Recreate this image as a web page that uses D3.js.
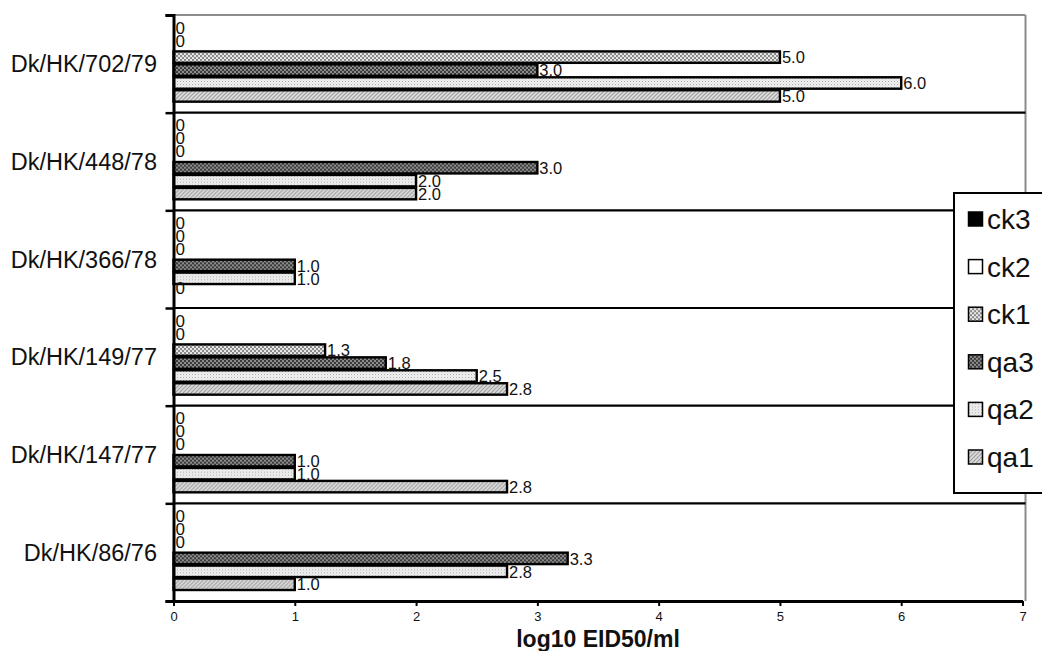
<!DOCTYPE html>
<html>
<head>
<meta charset="utf-8">
<script src="https://cdn.jsdelivr.net/npm/d3@7"></script>
<style>
body { margin: 0; background: #ffffff; }
text { font-family: "Liberation Sans", Arial, sans-serif; }
</style>
</head>
<body>
<div id="chart"></div>
<script>
// strains, top to bottom
var strains = ["Dk/HK/702/79", "Dk/HK/448/78", "Dk/HK/366/78", "Dk/HK/149/77", "Dk/HK/147/77", "Dk/HK/86/76"];
// series, top to bottom inside each group (same order as legend)
var series = ["ck3", "ck2", "ck1", "qa3", "qa2", "qa1"];
var ck3 = [0, 0, 0, 0, 0, 0];
var ck2 = [0, 0, 0, 0, 0, 0];
var ck1 = [5.0, 0, 0, 1.25, 0, 0];
var qa3 = [3.0, 3.0, 1.0, 1.75, 1.0, 3.25];
var qa2 = [6.0, 2.0, 1.0, 2.5, 1.0, 2.75];
var qa1 = [5.0, 2.0, 0, 2.75, 2.75, 1.0];
var xTicks = [0, 1, 2, 3, 4, 5, 6, 7];
var xTitle = "log10 EID50/ml";

var values = {ck3: ck3, ck2: ck2, ck1: ck1, qa3: qa3, qa2: qa2, qa1: qa1};

var W = 1042, H = 651;
var pLeft = 173.5, pRight = 1022.5, pTop = 15, pBottom = 601;

var svg = d3.select("#chart")
	.append("svg")
	.attr("width", W)
	.attr("height", H);

// fill patterns
var defs = svg.append("defs");
function checker(id, bg, fg, size){
	var p = defs.append("pattern")
		.attr("id", id)
		.attr("patternUnits", "userSpaceOnUse")
		.attr("width", size*2).attr("height", size*2);
	p.append("rect").attr("width", size*2).attr("height", size*2).attr("fill", bg);
	p.append("rect").attr("width", size).attr("height", size).attr("fill", fg);
	p.append("rect").attr("x", size).attr("y", size).attr("width", size).attr("height", size).attr("fill", fg);
}
checker("p_ck1", "#e6e6e6", "#8a8a8a", 2);
checker("p_qa3", "#8c8c8c", "#3a3a3a", 2);

var dots = defs.append("pattern")
	.attr("id", "p_qa2")
	.attr("patternUnits", "userSpaceOnUse")
	.attr("width", 3).attr("height", 3);
dots.append("rect").attr("width", 3).attr("height", 3).attr("fill", "#f2f2f2");
dots.append("rect").attr("width", 1).attr("height", 1).attr("fill", "#a6a6a6");
dots.append("rect").attr("x", 1.5).attr("y", 1.5).attr("width", 1).attr("height", 1).attr("fill", "#c4c4c4");

var hatch = defs.append("pattern")
	.attr("id", "p_qa1")
	.attr("patternUnits", "userSpaceOnUse")
	.attr("width", 4).attr("height", 4);
hatch.append("rect").attr("width", 4).attr("height", 4).attr("fill", "#dcdcdc");
hatch.append("path")
	.attr("d", "M-1,1 L1,-1 M0,4 L4,0 M3,5 L5,3")
	.attr("stroke", "#a0a0a0")
	.attr("stroke-width", 1.2);

var fills = {ck3: "#000000", ck2: "#ffffff", ck1: "url(#p_ck1)", qa3: "url(#p_qa3)", qa2: "url(#p_qa2)", qa1: "url(#p_qa1)"};

// scales
var x = d3.scaleLinear().domain([0, 7]).range([pLeft, pRight]);
var y = d3.scaleBand().domain(strains).range([pTop, pBottom]).padding(0);
var sub = d3.scaleBand().domain(series).range([10, y.bandwidth() - 10]).padding(0);
var yb = d3.scaleLinear().domain([0, strains.length]).range([pTop, pBottom]);

// frame: gray top and right
svg.append("line")
	.attr("x1", pLeft).attr("x2", pRight + 3)
	.attr("y1", pTop).attr("y2", pTop)
	.attr("stroke", "#8c8c8c").attr("stroke-width", 2);
svg.append("line")
	.attr("x1", pRight + 3).attr("x2", pRight + 3)
	.attr("y1", pTop).attr("y2", pBottom)
	.attr("stroke", "#8c8c8c").attr("stroke-width", 2);

// group separators
svg.selectAll(".sep")
	.data(d3.range(1, strains.length))
	.enter().append("line")
	.attr("class", "sep")
	.attr("x1", pLeft).attr("x2", pRight + 3)
	.attr("y1", function(d){ return yb(d); })
	.attr("y2", function(d){ return yb(d); })
	.attr("stroke", "#000").attr("stroke-width", 2.2);

// bars
var groups = svg.selectAll(".grp")
	.data(strains)
	.enter().append("g")
	.attr("class", "grp")
	.attr("transform", function(d){ return "translate(0," + y(d) + ")"; });

groups.each(function(s, i){
	var g = d3.select(this);
	series.forEach(function(k){
		var v = values[k][i];
		var yy = sub(k);
		if (v > 0){
			g.append("rect")
				.attr("x", x(0))
				.attr("y", yy + 0.5)
				.attr("width", x(v) - x(0))
				.attr("height", sub.bandwidth() - 1.5)
				.attr("fill", fills[k])
				.attr("stroke", "#000")
				.attr("stroke-width", 2.4);
		}
		g.append("text")
			.attr("x", v > 0 ? x(v) + 2 : x(0) + 2)
			.attr("y", yy + sub.bandwidth() / 2 + (v > 0 ? 0 : -4))
			.attr("dy", "0.36em")
			.attr("font-size", v > 0 ? 16.5 : 17)
			.attr("fill", "#111")
			.text(v > 0 ? v.toFixed(1) : "0");
	});
});

// category labels
svg.selectAll(".cat")
	.data(strains)
	.enter().append("text")
	.attr("class", "cat")
	.attr("x", 157)
	.attr("y", function(d){ return y(d) + y.bandwidth() / 2; })
	.attr("dy", "0.36em")
	.attr("text-anchor", "end")
	.attr("font-size", 23.5)
	.attr("fill", "#111")
	.text(function(d){ return d; });

// left axis with ticks at group boundaries
var yAxis = svg.append("g")
	.attr("transform", "translate(" + pLeft + ",0)")
	.call(d3.axisLeft(yb).tickValues(d3.range(0, strains.length + 1)).tickSize(8).tickFormat(""));
yAxis.select(".domain").attr("stroke-width", 3);
yAxis.selectAll(".tick line").attr("stroke-width", 2.5);

// bottom axis
var xAxis = svg.append("g")
	.attr("transform", "translate(0," + pBottom + ")")
	.call(d3.axisBottom(x).tickValues(xTicks).tickSize(5).tickSizeOuter(0).tickFormat(d3.format("d")));
xAxis.select(".domain").attr("stroke-width", 3);
xAxis.selectAll(".tick line").attr("stroke-width", 2);
xAxis.selectAll(".tick text")
	.attr("font-family", "Liberation Sans, Arial, sans-serif")
	.attr("font-size", 13)
	.attr("dy", "0.9em")
	.attr("fill", "#111");

svg.append("text")
	.attr("x", 598)
	.attr("y", 647)
	.attr("text-anchor", "middle")
	.attr("font-size", 23)
	.attr("font-weight", "bold")
	.attr("fill", "#111")
	.text(xTitle);

// legend
var lg = svg.append("g").attr("transform", "translate(954,193)");
lg.append("rect")
	.attr("width", 120).attr("height", 300)
	.attr("fill", "#fff")
	.attr("stroke", "#000").attr("stroke-width", 2);
var items = lg.selectAll(".item")
	.data(series)
	.enter().append("g")
	.attr("class", "item")
	.attr("transform", function(d, i){ return "translate(0," + (26 + i * 47.6) + ")"; });
items.append("rect")
	.attr("x", 14.5).attr("y", -7)
	.attr("width", 14).attr("height", 14)
	.attr("fill", function(d){ return fills[d]; })
	.attr("stroke", "#000").attr("stroke-width", 1.5);
items.append("text")
	.attr("x", 33)
	.attr("dy", "0.36em")
	.attr("font-size", 28)
	.attr("fill", "#111")
	.text(function(d){ return d; });
</script>
</body>
</html>
